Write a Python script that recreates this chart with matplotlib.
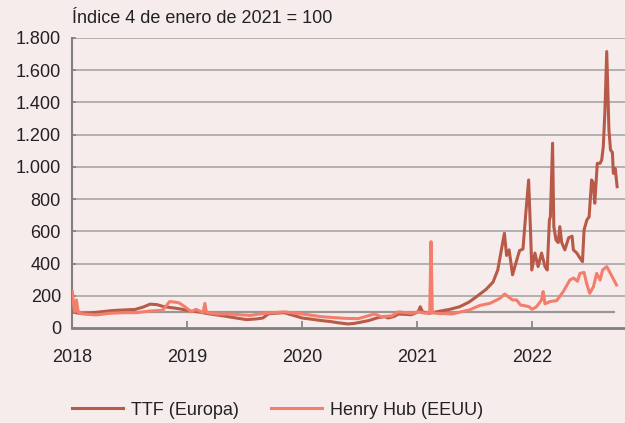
import pandas as pd
import matplotlib.pyplot as plt
import matplotlib.dates as mdates
from matplotlib.ticker import FuncFormatter

# Precios del gas, índice 4 de enero de 2021 = 100
ttf_fechas = [
    '2018-01-02', '2018-01-15', '2018-01-30', '2018-02-25', '2018-04-01', '2018-05-08',
    '2018-06-13', '2018-07-20', '2018-08-15', '2018-09-06', '2018-09-28', '2018-10-20',
    '2018-11-18', '2018-12-12', '2019-01-12', '2019-02-06', '2019-03-14', '2019-04-27',
    '2019-06-06', '2019-07-09', '2019-08-08', '2019-08-30', '2019-09-17', '2019-10-12',
    '2019-11-06', '2019-12-02', '2020-01-02', '2020-01-30', '2020-03-03', '2020-04-01',
    '2020-04-23', '2020-05-26', '2020-06-13', '2020-06-28', '2020-07-31', '2020-08-29',
    '2020-09-20', '2020-10-01', '2020-10-20', '2020-11-03', '2020-12-13', '2021-01-04',
    '2021-01-11', '2021-01-18', '2021-02-08', '2021-03-15', '2021-04-13', '2021-05-16',
    '2021-06-14', '2021-07-09', '2021-08-08', '2021-08-30', '2021-09-14', '2021-09-25',
    '2021-10-05', '2021-10-12', '2021-10-20', '2021-10-31', '2021-11-10', '2021-11-22',
    '2021-12-03', '2021-12-12', '2021-12-21', '2021-12-28', '2021-12-31', '2022-01-10',
    '2022-01-20', '2022-01-31', '2022-02-11', '2022-02-18', '2022-02-25', '2022-02-28',
    '2022-03-07', '2022-03-11', '2022-03-18', '2022-03-25', '2022-03-30', '2022-04-05',
    '2022-04-15', '2022-04-27', '2022-05-08', '2022-05-12', '2022-05-23', '2022-06-02',
    '2022-06-10', '2022-06-15', '2022-06-24', '2022-07-01', '2022-07-09', '2022-07-14',
    '2022-07-19', '2022-07-27', '2022-08-05', '2022-08-10', '2022-08-15', '2022-08-20',
    '2022-08-26', '2022-09-02', '2022-09-07', '2022-09-13', '2022-09-16', '2022-09-22',
    '2022-09-28',
]
ttf_valores = [
    100, 94, 90, 93, 100, 108,
    112, 115, 130, 148, 145, 132,
    125, 118, 105, 100, 87, 75,
    62, 52, 56, 62, 88, 92,
    95, 80, 62, 55, 46, 40,
    33, 25, 28, 33, 46, 64,
    70, 62, 72, 87, 82, 100,
    132, 100, 91, 105, 115, 132,
    160, 195, 240, 285, 360, 480,
    588, 450, 485, 330, 400, 480,
    490, 712, 919, 546, 360, 465,
    381, 465, 381, 360, 671, 690,
    1147, 629, 546, 530, 629, 530,
    485, 560, 570, 485, 465, 434,
    412, 609, 671, 690, 919, 900,
    774, 1022, 1022, 1043, 1125, 1333,
    1716, 1229, 1105, 1090, 960, 990,
    877,
]

hh_fechas = [
    '2018-01-02', '2018-01-06', '2018-01-10', '2018-01-15', '2018-01-21', '2018-02-05',
    '2018-03-18', '2018-04-30', '2018-06-13', '2018-07-24', '2018-09-05', '2018-10-16',
    '2018-11-07', '2018-11-25', '2018-12-08', '2018-12-24', '2019-01-15', '2019-01-30',
    '2019-02-21', '2019-02-27', '2019-03-04', '2019-04-05', '2019-05-15', '2019-06-28',
    '2019-07-20', '2019-09-05', '2019-11-06', '2020-01-02', '2020-03-04', '2020-05-15',
    '2020-06-28', '2020-08-19', '2020-09-09', '2020-10-12', '2020-11-03', '2020-12-13',
    '2021-01-04', '2021-01-25', '2021-02-10', '2021-02-14', '2021-02-18', '2021-03-10',
    '2021-04-23', '2021-05-20', '2021-06-16', '2021-07-19', '2021-08-20', '2021-09-21',
    '2021-10-06', '2021-10-31', '2021-11-13', '2021-11-25', '2021-12-14', '2021-12-22',
    '2022-01-01', '2022-01-15', '2022-01-31', '2022-02-05', '2022-02-11', '2022-02-27',
    '2022-03-20', '2022-04-10', '2022-05-01', '2022-05-13', '2022-05-25', '2022-06-02',
    '2022-06-15', '2022-06-23', '2022-07-03', '2022-07-15', '2022-07-25', '2022-08-05',
    '2022-08-13', '2022-08-26', '2022-09-05', '2022-09-15', '2022-09-26',
]
hh_valores = [
    226, 150, 100, 174, 95, 87,
    81, 91, 95, 95, 105, 110,
    164, 160, 155, 134, 100, 116,
    95, 153, 95, 87, 87, 81,
    78, 91, 100, 87, 70, 60,
    58, 87, 70, 75, 100, 91,
    100, 92, 95, 536, 95, 90,
    87, 100, 112, 140, 153, 184,
    211, 174, 174, 143, 136, 132,
    116, 132, 174, 226, 150, 164,
    170, 226, 298, 310, 290, 339,
    345, 277, 215, 257, 339, 298,
    360, 381, 345, 308, 267,
]

ttf = pd.Series(ttf_valores, index=pd.to_datetime(ttf_fechas))
hh = pd.Series(hh_valores, index=pd.to_datetime(hh_fechas))

plt.rcParams['font.family'] = ['Liberation Sans', 'DejaVu Sans']
plt.rcParams['font.size'] = 13
plt.rcParams['text.color'] = '#222222'

fondo = '#f7ecec'
fig = plt.figure(figsize=(6.25, 4.23), dpi=100, facecolor=fondo)
ax = fig.add_axes([0.1152, 0.2246, 0.8848, 0.6856], facecolor=fondo)

# Rejilla horizontal y línea de referencia en 100
for y in range(200, 1801, 200):
    ax.axhline(y, color='#b4b0b0', lw=1.4, zorder=1)
ax.hlines(100, pd.Timestamp('2018-01-01'), pd.Timestamp('2022-09-22'),
          color='#9a9696', lw=1.6, zorder=2)

ax.plot(ttf.index, ttf.values, color='#b85a48', lw=2.2, label='TTF (Europa)', zorder=3)
ax.plot(hh.index, hh.values, color='#f47e6c', lw=2.2, label='Henry Hub (EEUU)', zorder=3)

ax.set_ylim(0, 1800)
ax.set_yticks(range(0, 1801, 200))
ax.yaxis.set_major_formatter(FuncFormatter(lambda v, p: f'{int(v):,}'.replace(',', '.')))
ax.set_xlim(pd.Timestamp('2018-01-01'), pd.Timestamp('2022-10-23'))
ax.xaxis.set_major_locator(mdates.YearLocator())
ax.xaxis.set_major_formatter(mdates.DateFormatter('%Y'))

for lado in ['top', 'right']:
    ax.spines[lado].set_visible(False)
ax.spines['left'].set_color('#808080')
ax.spines['left'].set_linewidth(1.5)
ax.spines['bottom'].set_color('#808080')
ax.spines['bottom'].set_linewidth(2)
ax.tick_params(axis='both', direction='in', color='#808080', width=1.2, labelsize=13,
               labelcolor='#222222')
ax.tick_params(axis='y', length=3, pad=8)
ax.tick_params(axis='x', length=5, pad=15)

fig.text(0.1152, 0.935, 'Índice 4 de enero de 2021 = 100', fontsize=13, ha='left', va='bottom')

fig.legend(loc='center left', bbox_to_anchor=(0.1152, 0.03), ncol=2, frameon=False,
           borderpad=0, borderaxespad=0, handlelength=2.8, handletextpad=0.45,
           columnspacing=1.8, fontsize=13)

fig.savefig('out.png', dpi=100, facecolor=fondo)
